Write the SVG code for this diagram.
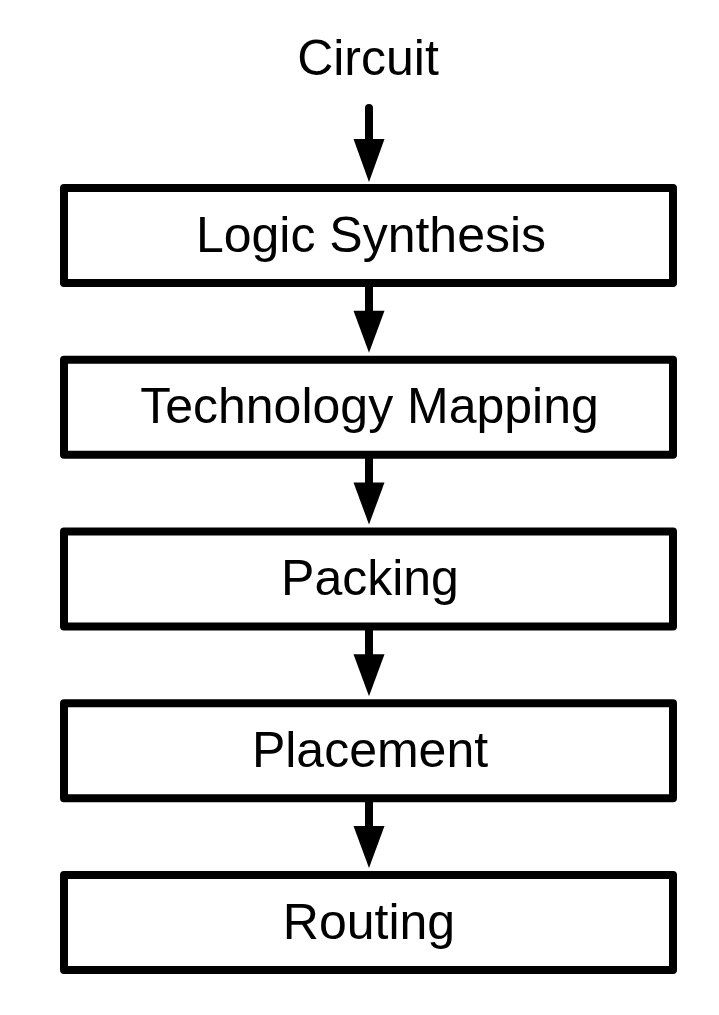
<svg xmlns="http://www.w3.org/2000/svg" width="719" height="1015" viewBox="0 0 719 1015">
<style>
.box{fill:#fff;stroke:#000;stroke-width:8;stroke-linejoin:round}
.lbl{font-family:"Liberation Sans",Arial,Helvetica,sans-serif;font-size:50px;fill:#000;text-anchor:middle}
.shaft{stroke:#000;stroke-width:8;fill:none}
.head{fill:#000}
</style>
<rect width="719" height="1015" fill="#fff"/>
<g id="connectors">
<line class="shaft" x1="369" y1="108" x2="369" y2="142" stroke-linecap="round"/>
<polygon class="head" points="353.5,139 384.5,139 369,182"/>
<line class="shaft" x1="369" y1="283" x2="369" y2="313"/>
<polygon class="head" points="353.5,310.75 384.5,310.75 369,352.75"/>
<line class="shaft" x1="369" y1="454.75" x2="369" y2="485"/>
<polygon class="head" points="353.5,482.5 384.5,482.5 369,524.5"/>
<line class="shaft" x1="369" y1="626.5" x2="369" y2="657"/>
<polygon class="head" points="353.5,654.25 384.5,654.25 369,696.25"/>
<line class="shaft" x1="369" y1="798.25" x2="369" y2="828"/>
<polygon class="head" points="353.5,826 384.5,826 369,868"/>
</g>
<g id="circuit">
<text class="lbl" x="368" y="75">Circuit</text>
</g>
<g id="logic-synthesis">
<rect class="box" x="64" y="188" width="609" height="95"/>
<text class="lbl" x="371" y="251.5">Logic Synthesis</text>
</g>
<g id="technology-mapping">
<rect class="box" x="64" y="359.75" width="609" height="95"/>
<text class="lbl" x="369.5" y="423.25">Technology Mapping</text>
</g>
<g id="packing">
<rect class="box" x="64" y="531.5" width="609" height="95"/>
<text class="lbl" x="370" y="595">Packing</text>
</g>
<g id="placement">
<rect class="box" x="64" y="703.25" width="609" height="95"/>
<text class="lbl" x="370" y="766.75">Placement</text>
</g>
<g id="routing">
<rect class="box" x="64" y="875" width="609" height="95"/>
<text class="lbl" x="369" y="938.5">Routing</text>
</g>
</svg>
